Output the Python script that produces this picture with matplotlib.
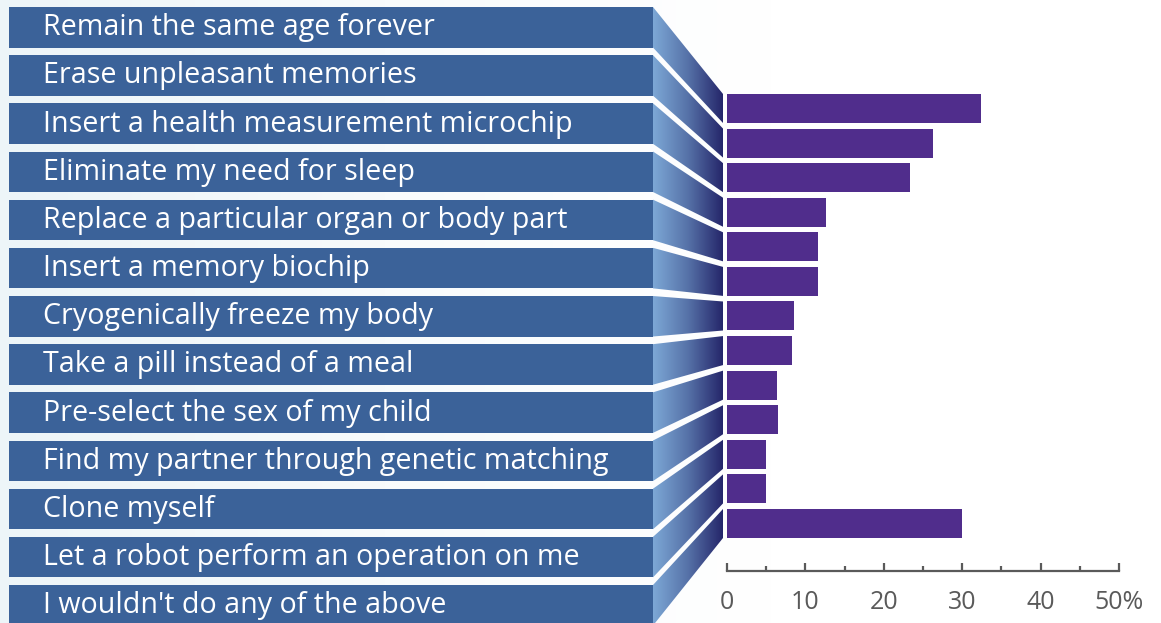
import numpy as np
import matplotlib
matplotlib.use("Agg")
import matplotlib.pyplot as plt
from matplotlib.colors import LinearSegmentedColormap
from matplotlib.patches import Polygon
import matplotlib.transforms as mtransforms

# data
labels = [
    "Remain the same age forever",
    "Erase unpleasant memories",
    "Insert a health measurement microchip",
    "Eliminate my need for sleep",
    "Replace a particular organ or body part",
    "Insert a memory biochip",
    "Cryogenically freeze my body",
    "Take a pill instead of a meal",
    "Pre-select the sex of my child",
    "Find my partner through genetic matching",
    "Clone myself",
    "Let a robot perform an operation on me",
    "I wouldn't do any of the above",
]
values = [32.4, 26.3, 23.3, 12.6, 11.6, 11.6, 8.5, 8.3, 6.4, 6.5, 5.0, 5.0, 30.0]
major_ticks = [0, 10, 20, 30, 40, 50]
minor_ticks = [5, 15, 25, 35, 45]
tick_labels = ["0", "10", "20", "30", "40", "50%"]

W, H = 1161, 623
box_color = "#3B6299"
bar_color = "#502D8C"
axis_color = "#5A5A5A"
font = ["Open Sans", "DejaVu Sans"]

fig = plt.figure(figsize=(W / 100, H / 100), dpi=100)

# background
ax_bg = fig.add_axes([0, 0, 1, 1])
bg_cmap = LinearSegmentedColormap.from_list("bg", ["#EDF5F8", "#F8FBFC", "#FFFFFF", "#FFFFFF"])
gx = np.linspace(0, 1, 256)[None, :]
ax_bg.imshow(gx, cmap=bg_cmap, aspect="auto", extent=[0, 1, 0, 1])
ax_bg.axis("off")

rows = np.arange(len(labels))

# left label boxes
ax_lab = fig.add_axes([9 / W, 0, 644 / W, 1])
ax_lab.barh(rows, 1, height=0.841, color=box_color, left=0)
ax_lab.set_xlim(0, 1)
ax_lab.set_ylim(12.368, -0.566)
ax_lab.axis("off")
trans = mtransforms.blended_transform_factory(ax_lab.transAxes, ax_lab.transData)
for i, lab in enumerate(labels):
    ax_lab.text(34 / 644, i + 0.165, lab, transform=trans, color="white",
                fontsize=20.6, family=font, va="baseline", ha="left")

# bars
ax_bar = fig.add_axes([727 / W, (H - 571) / H, 392 / W, (571 - 80) / H])
ax_bar.barh(rows, values, height=0.839, color=bar_color)
ax_bar.set_xlim(0, 50)
ax_bar.set_ylim(13.374, -0.824)
ax_bar.patch.set_alpha(0)
for s in ["top", "right", "left"]:
    ax_bar.spines[s].set_visible(False)
ax_bar.spines["bottom"].set_color(axis_color)
ax_bar.spines["bottom"].set_linewidth(1.6)
ax_bar.set_yticks([])
ax_bar.set_xticks(major_ticks)
ax_bar.set_xticklabels(tick_labels, family=font, fontsize=18, color=axis_color)
ax_bar.set_xticks(minor_ticks, minor=True)
ax_bar.tick_params(axis="x", which="major", direction="in", length=6, width=1.6,
                   color=axis_color, pad=13.5)
ax_bar.tick_params(axis="x", which="minor", direction="in", length=3.6, width=1.6,
                   color=axis_color)

# connectors between boxes and bars
ax_ov = fig.add_axes([0, 0, 1, 1])
ax_ov.set_xlim(0, W)
ax_ov.set_ylim(H, 0)
ax_ov.axis("off")
ax_ov.patch.set_alpha(0)
inv = ax_ov.transData.inverted()
con_cmap = LinearSegmentedColormap.from_list("con", ["#7DA8D6", "#5672A8", "#25266A"])
for i in rows:
    lt = inv.transform(ax_lab.transData.transform((1, i - 0.4205)))
    lb = inv.transform(ax_lab.transData.transform((1, i + 0.4205)))
    rt = inv.transform(ax_bar.transData.transform((0, i - 0.4195)))
    rb = inv.transform(ax_bar.transData.transform((0, i + 0.4195)))
    xl, xr = lt[0], rt[0] - 4
    poly = Polygon([(xl, lt[1]), (xr, rt[1]), (xr, rb[1]), (xl, lb[1])],
                   closed=True, facecolor="none", edgecolor="none")
    ax_ov.add_patch(poly)
    im = ax_ov.imshow(gx, cmap=con_cmap, aspect="auto", extent=[xl, xr, H, 0])
    im.set_clip_path(poly)
ax_ov.set_xlim(0, W)
ax_ov.set_ylim(H, 0)

fig.savefig("out.png", dpi=100)
